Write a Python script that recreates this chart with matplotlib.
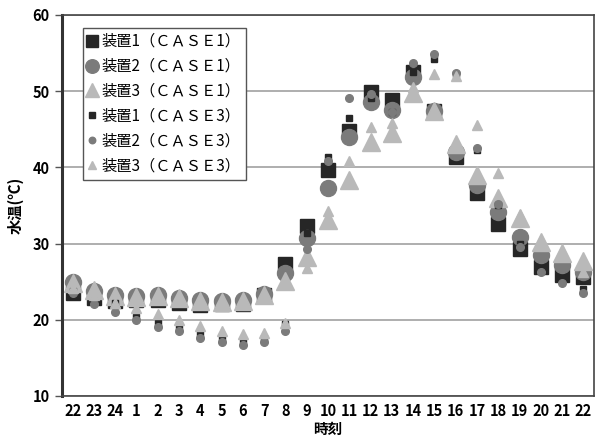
import matplotlib
matplotlib.use("Agg")
import matplotlib.pyplot as plt

plt.rcParams['font.family'] = ['Noto Sans CJK JP', 'DejaVu Sans']

labels = ['22', '23', '24', '1', '2', '3', '4', '5', '6', '7', '8', '9', '10',
          '11', '12', '13', '14', '15', '16', '17', '18', '19', '20', '21', '22']

dev1_case1 = [23.5, 22.9, 22.5, 22.6, 22.6, 22.2, 21.9, 22.1, 22.1, 23.3, 27.3, 32.3, 39.7,
              44.8, 49.9, 48.8, 52.5, 47.4, 41.4, 36.6, 32.6, 29.3, 26.9, 25.9, 25.6]
dev2_case1 = [25.0, 23.8, 23.3, 23.1, 23.3, 22.9, 22.6, 22.5, 22.6, 23.4, 26.1, 30.7, 37.3,
              44.0, 48.6, 47.5, 51.9, 47.4, 42.0, 37.7, 34.1, 30.9, 28.5, 27.2, 26.3]
dev3_case1 = [24.8, 23.9, 23.1, 23.0, 23.1, 22.8, 22.5, 22.4, 22.5, 23.3, 25.1, 28.2, 33.1,
              38.3, 43.3, 44.5, 49.7, 47.4, 43.1, 39.0, 36.0, 33.4, 30.2, 28.8, 27.7]
dev1_case3 = [23.8, 22.5, 22.2, 20.4, 19.6, 18.9, 18.1, 17.6, 17.3, 17.6, 19.4, 31.4, 41.4,
              46.5, 49.1, 47.3, 52.5, 54.2, 52.2, 42.3, 35.0, 30.0, 26.6, 25.2, 24.0]
dev2_case3 = [23.5, 22.1, 21.0, 20.0, 19.1, 18.5, 17.6, 17.1, 16.7, 17.1, 18.5, 29.3, 40.8,
              49.1, 49.6, 47.3, 53.7, 54.9, 52.4, 42.6, 35.2, 29.6, 26.3, 24.8, 23.5]
dev3_case3 = [24.2, 23.2, 22.2, 21.5, 20.8, 20.0, 19.2, 18.5, 18.1, 18.3, 19.6, 26.8, 34.3,
              40.9, 45.3, 45.8, 50.5, 52.2, 52.0, 45.6, 39.2, 33.8, 30.5, 29.0, 26.3]

series_names = ['装置1（ＣＡＳＥ1）', '装置2（ＣＡＳＥ1）', '装置3（ＣＡＳＥ1）',
                '装置1（ＣＡＳＥ3）', '装置2（ＣＡＳＥ3）', '装置3（ＣＡＳＥ3）']

fig = plt.figure(figsize=(5.96, 4.38), dpi=100)
ax = fig.add_axes([62/596, 1-396/438, 532/596, 381/438])

x = list(range(len(labels)))
dark, mid, light = '#262626', '#7b7b7b', '#b9b9b9'
styles = [
    (dev1_case1, 's', 10.0, dark),
    (dev2_case1, 'o', 11.5, mid),
    (dev3_case1, '^', 12.5, light),
    (dev1_case3, 's', 4.5, dark),
    (dev2_case3, 'o', 5.5, mid),
    (dev3_case3, '^', 6.5, light),
]
handles = []
for (vals, m, ms, c), name in zip(styles, series_names):
    h, = ax.plot(x, vals, linestyle='none', marker=m, markersize=ms,
                 color=c, markeredgecolor=c, label=name, zorder=3)
    handles.append(h)

ax.set_xlim(-0.5, len(labels) - 0.5)
ax.set_ylim(10, 60)
ax.set_yticks([10, 20, 30, 40, 50, 60])
ax.set_xticks(x)
ax.set_xticklabels(labels)
ax.yaxis.grid(True, color='#a8a8a8', linewidth=1.3)
ax.set_axisbelow(True)

for side in ['top', 'right', 'bottom']:
    ax.spines[side].set_color('#444444')
    ax.spines[side].set_linewidth(1.2)
ax.spines['left'].set_color('#333333')
ax.spines['left'].set_linewidth(2.2)

ax.tick_params(axis='y', length=5, width=1, color='#555555', pad=4,
               labelsize=10.5)
ax.tick_params(axis='x', length=0, pad=5, labelsize=10.5)
for lab in ax.get_yticklabels() + ax.get_xticklabels():
    lab.set_fontweight('bold')

ax.set_ylabel('水温(℃)', fontsize=11, fontweight='bold', labelpad=6)
ax.set_xlabel('時刻', fontsize=10.5, fontweight='bold', va='center')
ax.xaxis.set_label_coords(0.5, -0.086)

leg = ax.legend(handles=handles, loc='upper left',
                bbox_to_anchor=(0.04, 0.967), fontsize=11,
                markerscale=0.85, handlelength=0.5, handletextpad=0.35,
                labelspacing=0.52, borderpad=0.35, borderaxespad=0.0,
                fancybox=False, framealpha=1, edgecolor='#555555')
leg.get_frame().set_linewidth(1.0)

fig.savefig('out.png', dpi=100)
